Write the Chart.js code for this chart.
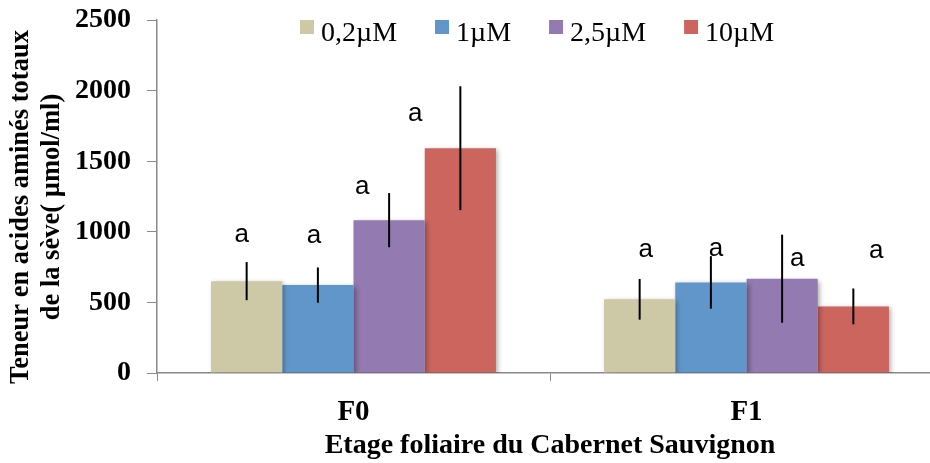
<!DOCTYPE html>
<html>
<head>
<meta charset="utf-8">
<script src="https://cdn.jsdelivr.net/npm/chart.js@4.4.1/dist/chart.umd.min.js"></script>
<style>
  html, body { margin: 0; padding: 0; background: #fff; }
  #wrap { width: 930px; height: 463px; overflow: hidden; position: relative; }
  canvas { display: block; }
</style>
</head>
<body>
<div id="wrap"><canvas id="chart" width="950" height="463"></canvas></div>
<script>
// --- données ---
const etages = ['F0', 'F1'];
const doses = ['0,2µM', '1µM', '2,5µM', '10µM'];
const couleurs = ['#CDC8A6', '#6096C9', '#937AB0', '#CC655E'];
const val_02 = [651, 522];
const val_1 = [623, 642];
const val_25 = [1083, 668];
const val_10 = [1593, 472];
const err_02 = [135, 144];
const err_1 = [125, 186];
const err_25 = [192, 312];
const err_10 = [439, 127];
const lettres_02 = ['a', 'a'];
const lettres_1 = ['a', 'a'];
const lettres_25 = ['a', 'a'];
const lettres_10 = ['a', 'a'];
const titreY = ['Teneur en acides aminés totaux', 'de la sève( µmol/ml)'];

const valeurs = [val_02, val_1, val_25, val_10];
const erreurs = [err_02, err_1, err_25, err_10];
const lettres = [lettres_02, lettres_1, lettres_25, lettres_10];

// décalage des lettres (px) par rapport au haut de la barre d'erreur [série][étage]
const decalLettres = [
  [{ dx: -5, dy: -27 }, { dx: 6, dy: -29 }],
  [{ dx: -4, dy: -32 }, { dx: 5, dy: -7 }],
  [{ dx: -27, dy: -6 }, { dx: 15, dy: 24 }],
  [{ dx: -45, dy: 28 }, { dx: 23, dy: -38 }]
];

const GRIS = '#898989';
const SERIF = '"Liberation Serif", "Times New Roman", serif';

const extras = {
  id: 'extras',
  beforeDatasetsDraw(chart) {
    const ctx = chart.ctx;
    ctx.save();
    ctx.shadowColor = 'rgba(0,0,0,0.35)';
    ctx.shadowBlur = 5;
    ctx.shadowOffsetX = 2;
    ctx.shadowOffsetY = 2;
  },
  afterDatasetsDraw(chart) {
    const ctx = chart.ctx;
    ctx.restore();
    const y = chart.scales.y;
    ctx.save();
    // barres d'erreur
    ctx.strokeStyle = '#000';
    ctx.lineWidth = 2;
    chart.data.datasets.forEach((ds, i) => {
      chart.getDatasetMeta(i).data.forEach((bar, j) => {
        const v = ds.data[j], e = erreurs[i][j];
        ctx.beginPath();
        ctx.moveTo(bar.x, y.getPixelForValue(v + e));
        ctx.lineTo(bar.x, y.getPixelForValue(v - e));
        ctx.stroke();
      });
    });
    // lettres
    ctx.fillStyle = '#000';
    ctx.font = '26px "Liberation Sans", Arial, sans-serif';
    ctx.textAlign = 'center';
    ctx.textBaseline = 'middle';
    chart.data.datasets.forEach((ds, i) => {
      chart.getDatasetMeta(i).data.forEach((bar, j) => {
        const top = y.getPixelForValue(ds.data[j] + erreurs[i][j]);
        const d = decalLettres[i][j];
        ctx.fillText(lettres[i][j], bar.x + d.dx, top + d.dy);
      });
    });
    // légende
    ctx.font = '28px ' + SERIF;
    ctx.textAlign = 'left';
    ctx.textBaseline = 'alphabetic';
    let x = 300;
    chart.data.datasets.forEach((ds) => {
      ctx.fillStyle = ds.backgroundColor;
      ctx.fillRect(x, 20, 14, 14);
      ctx.fillStyle = '#000';
      ctx.fillText(ds.label, x + 21, 41);
      x += 21 + ctx.measureText(ds.label).width + 38;
    });
    // titre de l'axe Y (deux lignes, pivoté)
    ctx.font = 'bold 26.5px ' + SERIF;
    ctx.textAlign = 'center';
    ctx.textBaseline = 'middle';
    ctx.translate(0, 207);
    ctx.rotate(-Math.PI / 2);
    ctx.fillText(titreY[0], 0, 21);
    ctx.fillText(titreY[1], 0, 52);
    ctx.restore();
  }
};

new Chart(document.getElementById('chart'), {
  type: 'bar',
  data: {
    labels: etages,
    datasets: doses.map((d, i) => ({
      label: d,
      data: valeurs[i],
      backgroundColor: couleurs[i],
      borderWidth: 0,
      barPercentage: 1,
      categoryPercentage: 0.725
    }))
  },
  options: {
    responsive: false,
    animation: false,
    devicePixelRatio: 1,
    layout: { padding: { top: 20, right: 7, left: 0, bottom: 0 } },
    plugins: { legend: { display: false }, tooltip: { enabled: false } },
    scales: {
      x: {
        grid: { drawOnChartArea: false, drawTicks: true, tickLength: 8, color: GRIS, offset: true },
        border: { color: GRIS, width: 1.5 },
        ticks: { color: '#000', font: { family: SERIF, weight: 'bold', size: 29 }, padding: 14 },
        title: {
          display: true, text: 'Etage foliaire du Cabernet Sauvignon', color: '#000',
          font: { family: SERIF, weight: 'bold', size: 28 }, padding: { top: 0, bottom: 0 }
        },
        afterFit(s) { s.height = 90; }
      },
      y: {
        min: 0, max: 2500,
        grid: { drawOnChartArea: false, drawTicks: true, tickLength: 10, color: GRIS },
        border: { color: GRIS, width: 1.5 },
        ticks: {
          stepSize: 500, color: '#000', font: { family: SERIF, weight: 'bold', size: 28, lineHeight: 0.3 }, padding: 16,
          callback: (v) => String(v)
        },
        afterFit(s) { s.width = 157; }
      }
    }
  },
  plugins: [extras]
});
</script>
</body>
</html>
